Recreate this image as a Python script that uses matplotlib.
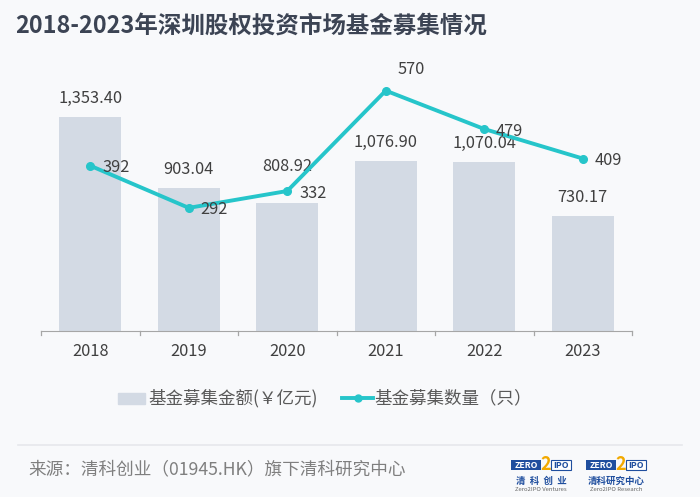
import matplotlib.pyplot as plt
from matplotlib.patches import Rectangle
from matplotlib.lines import Line2D

plt.rcParams['font.family'] = ['Noto Sans CJK SC', 'DejaVu Sans']

# data
years = ['2018', '2019', '2020', '2021', '2022', '2023']
amount = [1353.40, 903.04, 808.92, 1076.90, 1070.04, 730.17]
count = [392, 292, 332, 570, 479, 409]
amount_labels = ['1,353.40', '903.04', '808.92', '1,076.90', '1,070.04', '730.17']

bg = '#f8f9fb'
bar_c = '#d3dae4'
line_c = '#26c5ca'
txt_c = '#404040'

W, H = 700, 497
fig = plt.figure(figsize=(7, 4.97), dpi=100, facecolor=bg)

def fx(px):
    return px / W

def fy(py):
    return 1 - py / H

ax = fig.add_axes([fx(41), fy(331), fx(632) - fx(41), fy(78) - fy(331)])
ax.set_facecolor(bg)
x = list(range(len(years)))
ax.bar(x, amount, width=0.63, color=bar_c, zorder=1)
ax.set_xlim(-0.5, len(years) - 0.5)
ax.set_ylim(0, 1600)
ax.set_yticks([])
for s in ['top', 'right', 'left']:
    ax.spines[s].set_visible(False)
ax.spines['bottom'].set_color('#a6a6a6')
ax.set_xticks(x)
ax.set_xticklabels(years, fontsize=11.8, color=txt_c)
ax.tick_params(axis='x', length=0, pad=9)
# ticks between categories
for b in [i - 0.5 for i in range(len(years) + 1)]:
    ax.plot([b, b], [0, -25], color='#a6a6a6', lw=0.9, clip_on=False)

# the 2020 label is pushed up so it clears the line
for i, (xi, v, lab) in enumerate(zip(x, amount, amount_labels)):
    dy = 20 if i == 2 else 7
    ax.annotate(lab, (xi, v), xytext=(0, dy), textcoords='offset points',
                ha='center', va='bottom', fontsize=11.8, color=txt_c)

ax2 = ax.twinx()
ax2.set_ylim(0, 600)
ax2.set_yticks([])
for s in ['top', 'right', 'left', 'bottom']:
    ax2.spines[s].set_visible(False)
ax2.plot(x, count, color=line_c, lw=2.8, marker='o', markersize=5.5, zorder=3)
for i, (xi, v) in enumerate(zip(x, count)):
    if i == 3:
        ax2.annotate(str(v), (xi, v), xytext=(18, 9), textcoords='offset points',
                     ha='center', va='bottom', fontsize=11.8, color=txt_c)
    else:
        ax2.annotate(str(v), (xi, v), xytext=(8.5, -1.5), textcoords='offset points',
                     ha='left', va='center', fontsize=11.8, color=txt_c)

# title
fig.text(fx(15), fy(26), '2018-2023年深圳股权投资市场基金募集情况', fontsize=16.9,
         fontweight='bold', color='#3c4454', ha='left', va='center')

# legend
fig.patches.append(Rectangle((fx(118), fy(404)), fx(27), fy(393) - fy(404),
                             transform=fig.transFigure, color=bar_c))
fig.text(fx(148), fy(398), '基金募集金额(￥亿元)', fontsize=12.6, color='#595959',
         ha='left', va='center')
fig.add_artist(Line2D([fx(342), fx(373)], [fy(398), fy(398)], color=line_c, lw=2.8))
fig.add_artist(Line2D([fx(357.5)], [fy(398)], color=line_c, marker='o', markersize=5))
fig.text(fx(374), fy(398), '基金募集数量（只）', fontsize=12.6, color='#595959',
         ha='left', va='center')

# footer
fig.add_artist(Line2D([fx(18), fx(682)], [fy(445), fy(445)], color='#e6e8ec', lw=1.2))
fig.text(fx(28), fy(469), '来源：清科创业（01945.HK）旗下清科研究中心', fontsize=12.7,
         color='#7f7f7f', ha='left', va='center')

# logos
blue = '#1f4e9e'
for x0, cn, en in [(511, '清  科  创  业', 'Zero2IPO Ventures'),
                   (586, '清科研究中心', 'Zero2IPO Research')]:
    fig.patches.append(Rectangle((fx(x0), fy(470)), fx(30), fy(460) - fy(470),
                                 transform=fig.transFigure, fc=blue, ec='none'))
    fig.text(fx(x0 + 15), fy(465), 'ZERO', fontsize=6.3, fontweight='bold',
             color='white', ha='center', va='center')
    fig.patches.append(Rectangle((fx(x0 + 40), fy(470)), fx(20), fy(460) - fy(470),
                                 transform=fig.transFigure, fc='white', ec=blue, lw=0.8))
    fig.text(fx(x0 + 50), fy(465), 'IPO', fontsize=6.3, fontweight='bold',
             color=blue, ha='center', va='center')
    fig.text(fx(x0 + 35), fy(464), '2', fontsize=13, fontweight='bold',
             color='#f2a900', ha='center', va='center')
    fig.text(fx(x0 + 30), fy(481), cn, fontsize=6.8, fontweight='bold', color=blue,
             ha='center', va='center')
    fig.text(fx(x0 + 30), fy(489.5), en, fontsize=4.3, color='#666666',
             ha='center', va='center')

fig.savefig('out.png', dpi=100, facecolor=bg)
